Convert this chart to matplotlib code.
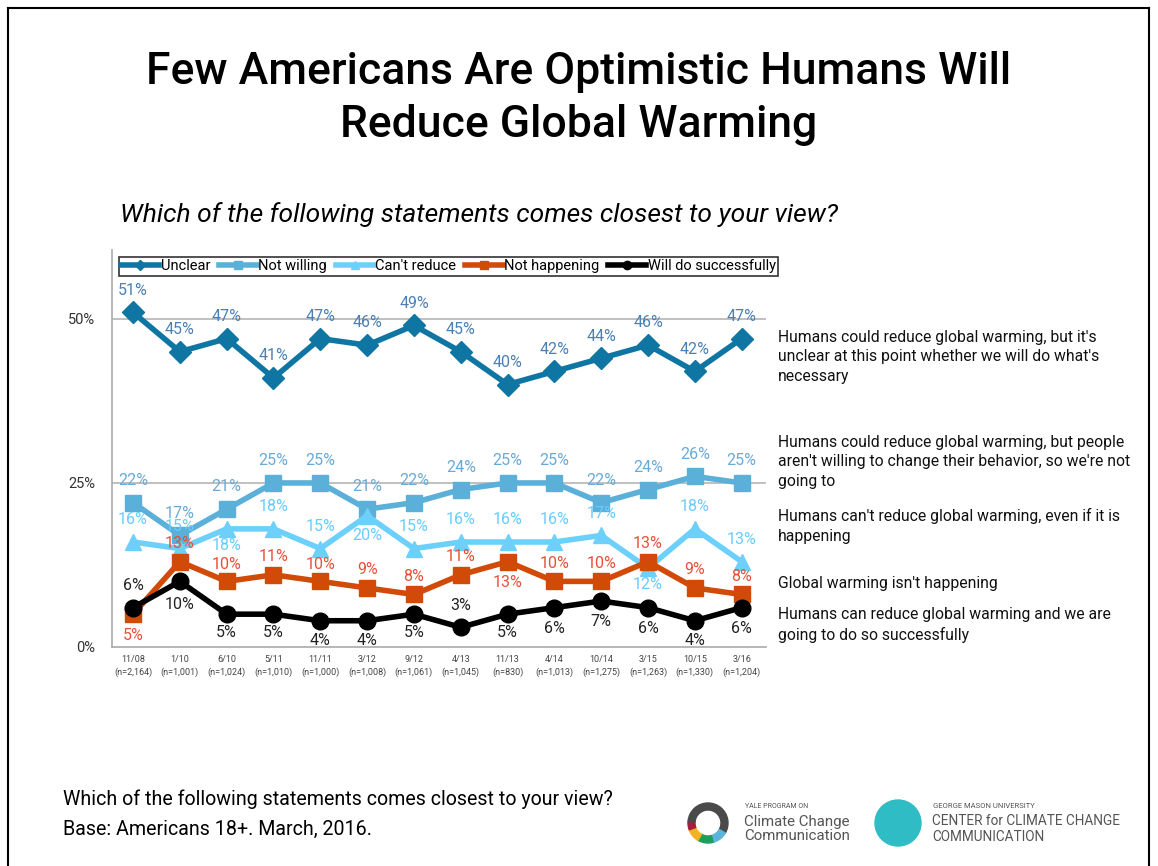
import matplotlib
matplotlib.use("Agg")
import matplotlib.pyplot as plt
from matplotlib.patches import Wedge, Circle
from matplotlib.lines import Line2D

plt.rcParams['font.family'] = ['Roboto', 'DejaVu Sans']

# data
waves = ["11/08", "1/10", "6/10", "5/11", "11/11", "3/12", "9/12", "4/13",
         "11/13", "4/14", "10/14", "3/15", "10/15", "3/16"]
sizes = ["2,164", "1,001", "1,024", "1,010", "1,000", "1,008", "1,061", "1,045",
         "830", "1,013", "1,275", "1,263", "1,330", "1,204"]
unclear = [51, 45, 47, 41, 47, 46, 49, 45, 40, 42, 44, 46, 42, 47]
not_willing = [22, 17, 21, 25, 25, 21, 22, 24, 25, 25, 22, 24, 26, 25]
cant_reduce = [16, 15, 18, 18, 15, 20, 15, 16, 16, 16, 17, 12, 18, 13]
not_happening = [5, 13, 10, 11, 10, 9, 8, 11, 13, 10, 10, 13, 9, 8]
will_do = [6, 10, 5, 5, 4, 4, 5, 3, 5, 6, 7, 6, 4, 6]

# label offsets in points (positive = above the point)
up = 16
unclear_off = [up] * 14
willing_off = [up] * 14
cant_off = [up, up, -12, up, up, -14, up, up, up, up, up, -12, up, up]
happ_off = [-15, 13, 12, 13, 12, 13, 13, 13, -15, 13, 13, 13, 13, 13]
will_off = [16, -17, -13, -13, -14, -14, -13, 16, -13, -15, -15, -15, -14, -15]

series = [
    ("Unclear", unclear, "#0f76a4", "#4a80b4", "D", 11, unclear_off),
    ("Not willing", not_willing, "#5ab0d8", "#6aaad6", "s", 12, willing_off),
    ("Can't reduce", cant_reduce, "#6dd0fb", "#66ccff", "^", 12, cant_off),
    ("Not happening", not_happening, "#d24a08", "#e8503a", "s", 12, happ_off),
    ("Will do successfully", will_do, "#000000", "#222222", "o", 12, will_off),
]

right_notes = [
    (44.2, "Humans could reduce global warming, but it's\nunclear at this point whether we will do what's\nnecessary"),
    (28.2, "Humans could reduce global warming, but people\naren't willing to change their behavior, so we're not\ngoing to"),
    (18.4, "Humans can't reduce global warming, even if it is\nhappening"),
    (9.6, "Global warming isn't happening"),
    (3.35, "Humans can reduce global warming and we are\ngoing to do so successfully"),
]

fig = plt.figure(figsize=(11.58, 8.66), dpi=100)
ax = fig.add_axes([0.0967, 0.2529, 0.5644, 0.4584])

x = list(range(len(waves)))
for name, vals, lc, tc, mk, ms, offs in series:
    ax.plot(x, vals, color=lc, lw=4, marker=mk, ms=ms, label=name, zorder=3)
    for xi, v, o in zip(x, vals, offs):
        ax.annotate(f"{v}%", (xi, v), xytext=(0, o), textcoords="offset points",
                    ha="center", va="center", fontsize=11.5, color=tc, zorder=4)

ax.set_xlim(-0.45, 13.51)
ax.set_ylim(0, 60.5)
ax.set_yticks([0, 25, 50])
ax.set_yticklabels(["0%", "25%", "50%"], fontsize=10.5, color="#333333")
ax.set_xticks(x)
ax.set_xticklabels([f"{w}\n(n={n})" for w, n in zip(waves, sizes)],
                   fontsize=6.5, color="#444444", linespacing=1.35)
ax.tick_params(length=0, pad=6)
ax.tick_params(axis="y", pad=12)
for y in [25, 50]:
    ax.axhline(y, color="#b5b5b5", lw=1.2, zorder=1)
for sp in ["top", "right"]:
    ax.spines[sp].set_visible(False)
for sp in ["left", "bottom"]:
    ax.spines[sp].set_color("#aaaaaa")
    ax.spines[sp].set_linewidth(1.2)

leg = ax.legend(loc="upper left", bbox_to_anchor=(0.0, 1.0), ncol=5, fontsize=10.5,
                frameon=True, fancybox=False, edgecolor="black", handlelength=2.6,
                handletextpad=0.1, columnspacing=0.6, borderpad=0.15, markerscale=0.5)
leg.get_frame().set_linewidth(1.2)

for yv, txt in right_notes:
    ax.annotate(txt, (1.0, yv), xycoords=("axes fraction", "data"),
                xytext=(9, 0), textcoords="offset points", ha="left", va="center",
                fontsize=11.3, color="#111111", annotation_clip=False, linespacing=1.4)

fig.text(0.5, 0.917, "Few Americans Are Optimistic Humans Will", ha="center", va="center",
         fontsize=32, fontweight="medium", color="black")
fig.text(0.5, 0.856, "Reduce Global Warming", ha="center", va="center",
         fontsize=32, fontweight="medium", color="black")
fig.text(0.104, 0.752, "Which of the following statements comes closest to your view?",
         ha="left", va="center", fontsize=19, style="italic", color="black")

fig.text(0.054, 0.077, "Which of the following statements comes closest to your view?",
         ha="left", va="center", fontsize=14.1, color="black")
fig.text(0.054, 0.042, "Base: Americans 18+. March, 2016.",
         ha="left", va="center", fontsize=14.1, color="black")

# logos, roughly
lax = fig.add_axes([0, 0, 1, 1], zorder=-1)
lax.set_xlim(0, 1158)
lax.set_ylim(866, 0)
lax.axis("off")
lax.add_patch(Wedge((708, 823), 20, -130, 30, width=7, color="#4a4a4a"))
lax.add_patch(Wedge((708, 823), 20, 30, 75, width=7, color="#5ab4dc"))
lax.add_patch(Wedge((708, 823), 20, 75, 120, width=7, color="#1aa05a"))
lax.add_patch(Wedge((708, 823), 20, 120, 160, width=7, color="#f4b223"))
lax.add_patch(Wedge((708, 823), 20, 160, 185, width=7, color="#a3203a"))
lax.add_patch(Wedge((708, 823), 20, 185, 230, width=7, color="#4a4a4a"))
lax.add_patch(Circle((898, 823), 23, color="#2fbcc4"))
lax.text(745, 807, "YALE PROGRAM ON", fontsize=5, color="#555555", va="center")
lax.text(744, 829, "Climate Change\nCommunication", fontsize=10.8, color="#555555",
         va="center", linespacing=1.0)
lax.text(933, 806, "GEORGE MASON UNIVERSITY", fontsize=5.5, color="#555555", va="center")
lax.text(932, 829, "CENTER for CLIMATE CHANGE\nCOMMUNICATION", fontsize=9.8,
         color="#555555", va="center", linespacing=1.15)

# slide border
for xs, ys in [([8, 8], [866, 8]), ([8, 1149], [8, 8]), ([1149, 1149], [8, 866])]:
    lax.add_line(Line2D(xs, ys, color="black", lw=1.5))

fig.savefig("out.png", dpi=100)
